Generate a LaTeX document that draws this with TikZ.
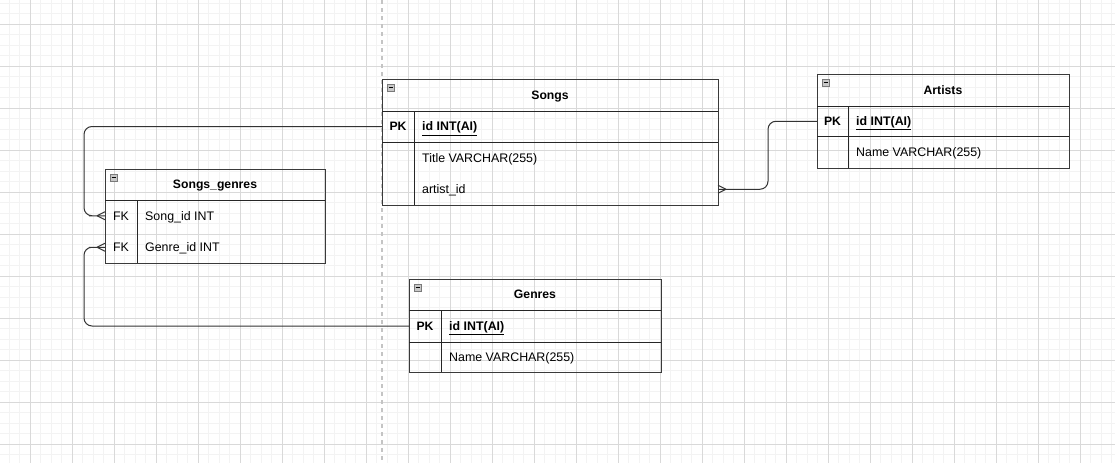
\documentclass[tikz,border=0pt]{standalone}
\usepackage{fontspec}
\setmainfont{Liberation Sans}
\definecolor{gridminor}{HTML}{F3F3F3}
\definecolor{gridmajor}{HTML}{D9D9D9}
\definecolor{pageline}{HTML}{C4C4C4}
\definecolor{tblline}{HTML}{3A3A3A}
\definecolor{connline}{HTML}{333333}
\definecolor{iconfill}{HTML}{C8C8C8}
\definecolor{iconline}{HTML}{7A7A7A}
\newcommand{\tblicon}[2]{%
  \draw[iconline, fill=iconfill, line width=0.8pt] (#1+5,#2+5) rectangle (#1+12,#2+12);
  \draw[black, line width=1pt] (#1+6.5,#2+8.5) -- (#1+10.5,#2+8.5);}
\begin{document}
\begin{tikzpicture}[x=1pt,y=-1pt,
  tbl/.style={draw=tblline, line width=1.3pt, rectangle, inner sep=0pt, anchor=north west},
  rowbox/.style={rectangle, inner sep=0pt, outer sep=0pt, anchor=north west},
  sepline/.style={draw=black!85, line width=1pt},
  hdr/.style={font=\fontsize{12.2}{14}\selectfont\bfseries, inner sep=0pt, text height=8.7pt, text depth=0pt},
  keyreg/.style={font=\fontsize{12.4}{14}\selectfont, inner sep=0pt, text height=8.7pt, text depth=0pt},
  fld/.style={font=\fontsize{12.4}{14}\selectfont, inner sep=0pt, anchor=west, text height=8.7pt, text depth=0pt},
  conn/.style={draw=connline, line width=1pt},
  busy/.style={rounded corners=8pt}]
% background and bounding box
\fill[white] (0,0) rectangle (1119,463);
\useasboundingbox (0,0) rectangle (1119,463);
% grid
\foreach \i in {0,...,105} \draw[gridminor, line width=1pt] (9+10.5*\i,0) -- (9+10.5*\i,463);
\foreach \j in {0,...,43} \draw[gridminor, line width=1pt] (0,3+10.5*\j) -- (1115,3+10.5*\j);
\foreach \i in {0,...,25} \draw[gridmajor, line width=1pt] (30+42*\i,0) -- (30+42*\i,463);
\foreach \j in {0,...,10} \draw[gridmajor, line width=1pt] (0,24+42*\j) -- (1115,24+42*\j);
% page break line
\draw[pageline, line width=1.5pt, dash pattern=on 4pt off 4pt] (382,0) -- (382,463);

% ---------- Songs ----------
\node[tbl, minimum width=336pt, minimum height=126pt] (songs) at (382,79) {};
\node[rowbox, minimum width=336pt, minimum height=31pt] (songsPK) at (382,111) {};
\node[rowbox, minimum width=336pt, minimum height=31.5pt] (songsTitle) at (382,142) {};
\node[rowbox, minimum width=336pt, minimum height=31.5pt] (songsArt) at (382,173.5) {};
\node[hdr] (songsHdr) at (550,95) {Songs};
\draw[sepline] (songsPK.north west) -- (songsPK.north east);
\draw[sepline] (songsPK.south west) -- (songsPK.south east);
\draw[sepline] ([xshift=32pt]songsPK.north west) -- ([xshift=32pt]songsArt.south west);
\node[hdr] (songsPKk) at ([xshift=16pt]songsPK.west) {PK};
\node[fld] (songsPKf) at ([xshift=40pt]songsPK.west) {\underline{\textbf{id INT(AI)}}};
\node[fld] (songsTitlef) at ([xshift=40pt]songsTitle.west) {Title VARCHAR(255)};
\node[fld] (songsArtf) at ([xshift=40pt]songsArt.west) {artist\_id};
\tblicon{382}{79}

% ---------- Songs_genres ----------
\node[tbl, minimum width=220pt, minimum height=94pt] (sg) at (105,169) {};
\node[rowbox, minimum width=220pt, minimum height=31.5pt] (sgSong) at (105,200) {};
\node[rowbox, minimum width=220pt, minimum height=31.5pt] (sgGenre) at (105,231.5) {};
\node[hdr] (sgHdr) at (215,184.5) {Songs\_genres};
\draw[sepline] (sgSong.north west) -- (sgSong.north east);
\draw[sepline] ([xshift=32pt]sgSong.north west) -- ([xshift=32pt]sgGenre.south west);
\node[keyreg] (sgSongk) at ([xshift=16pt]sgSong.west) {FK};
\node[fld] (sgSongf) at ([xshift=40pt]sgSong.west) {Song\_id INT};
\node[keyreg] (sgGenrek) at ([xshift=16pt]sgGenre.west) {FK};
\node[fld] (sgGenref) at ([xshift=40pt]sgGenre.west) {Genre\_id INT};
\tblicon{105}{169}

% ---------- Artists ----------
\node[tbl, minimum width=252pt, minimum height=94pt] (art) at (817,74) {};
\node[rowbox, minimum width=252pt, minimum height=30.5pt] (artPK) at (817,106) {};
\node[rowbox, minimum width=252pt, minimum height=31.5pt] (artName) at (817,136.5) {};
\node[hdr] (artHdr) at (943,90) {Artists};
\draw[sepline] (artPK.north west) -- (artPK.north east);
\draw[sepline] (artPK.south west) -- (artPK.south east);
\draw[sepline] ([xshift=31pt]artPK.north west) -- ([xshift=31pt]artName.south west);
\node[hdr] (artPKk) at ([xshift=15.5pt]artPK.west) {PK};
\node[fld] (artPKf) at ([xshift=39pt]artPK.west) {\underline{\textbf{id INT(AI)}}};
\node[fld] (artNamef) at ([xshift=39pt]artName.west) {Name VARCHAR(255)};
\tblicon{817}{74}

% ---------- Genres ----------
\node[tbl, minimum width=252pt, minimum height=93pt] (gen) at (409,279) {};
\node[rowbox, minimum width=252pt, minimum height=32pt] (genPK) at (409,310) {};
\node[rowbox, minimum width=252pt, minimum height=30pt] (genName) at (409,342) {};
\node[hdr] (genHdr) at (535,294.5) {Genres};
\draw[sepline] (genPK.north west) -- (genPK.north east);
\draw[sepline] (genPK.south west) -- (genPK.south east);
\draw[sepline] ([xshift=32pt]genPK.north west) -- ([xshift=32pt]genName.south west);
\node[hdr] (genPKk) at ([xshift=16pt]genPK.west) {PK};
\node[fld] (genPKf) at ([xshift=40pt]genPK.west) {\underline{\textbf{id INT(AI)}}};
\node[fld] (genNamef) at ([xshift=40pt]genName.west) {Name VARCHAR(255)};
\tblicon{409}{279}

% ---------- connectors ----------
\coordinate (leftbus) at (84,0);
\coordinate (rightbus) at (768,0);
% Songs.id -> Songs_genres.Song_id
\draw[conn, busy] (songsPK.west) -- (songsPK.west -| leftbus) |- ([xshift=-8pt]sgSong.west) -- (sgSong.west);
\draw[conn] ([xshift=-8pt]sgSong.west) -- ([yshift=4pt]sgSong.west)
            ([xshift=-8pt]sgSong.west) -- ([yshift=-4pt]sgSong.west);
% Genres.id -> Songs_genres.Genre_id
\draw[conn, busy] (genPK.west) -- (genPK.west -| leftbus) |- ([xshift=-8pt]sgGenre.west) -- (sgGenre.west);
\draw[conn] ([xshift=-8pt]sgGenre.west) -- ([yshift=4pt]sgGenre.west)
            ([xshift=-8pt]sgGenre.west) -- ([yshift=-4pt]sgGenre.west);
% Songs.artist_id -> Artists.id
\draw[conn, busy] (songsArt.east) -- (songsArt.east -| rightbus) |- (artPK.west);
\draw[conn] ([xshift=8pt]songsArt.east) -- ([yshift=4pt]songsArt.east)
            ([xshift=8pt]songsArt.east) -- ([yshift=-4pt]songsArt.east);
\end{tikzpicture}
\end{document}
